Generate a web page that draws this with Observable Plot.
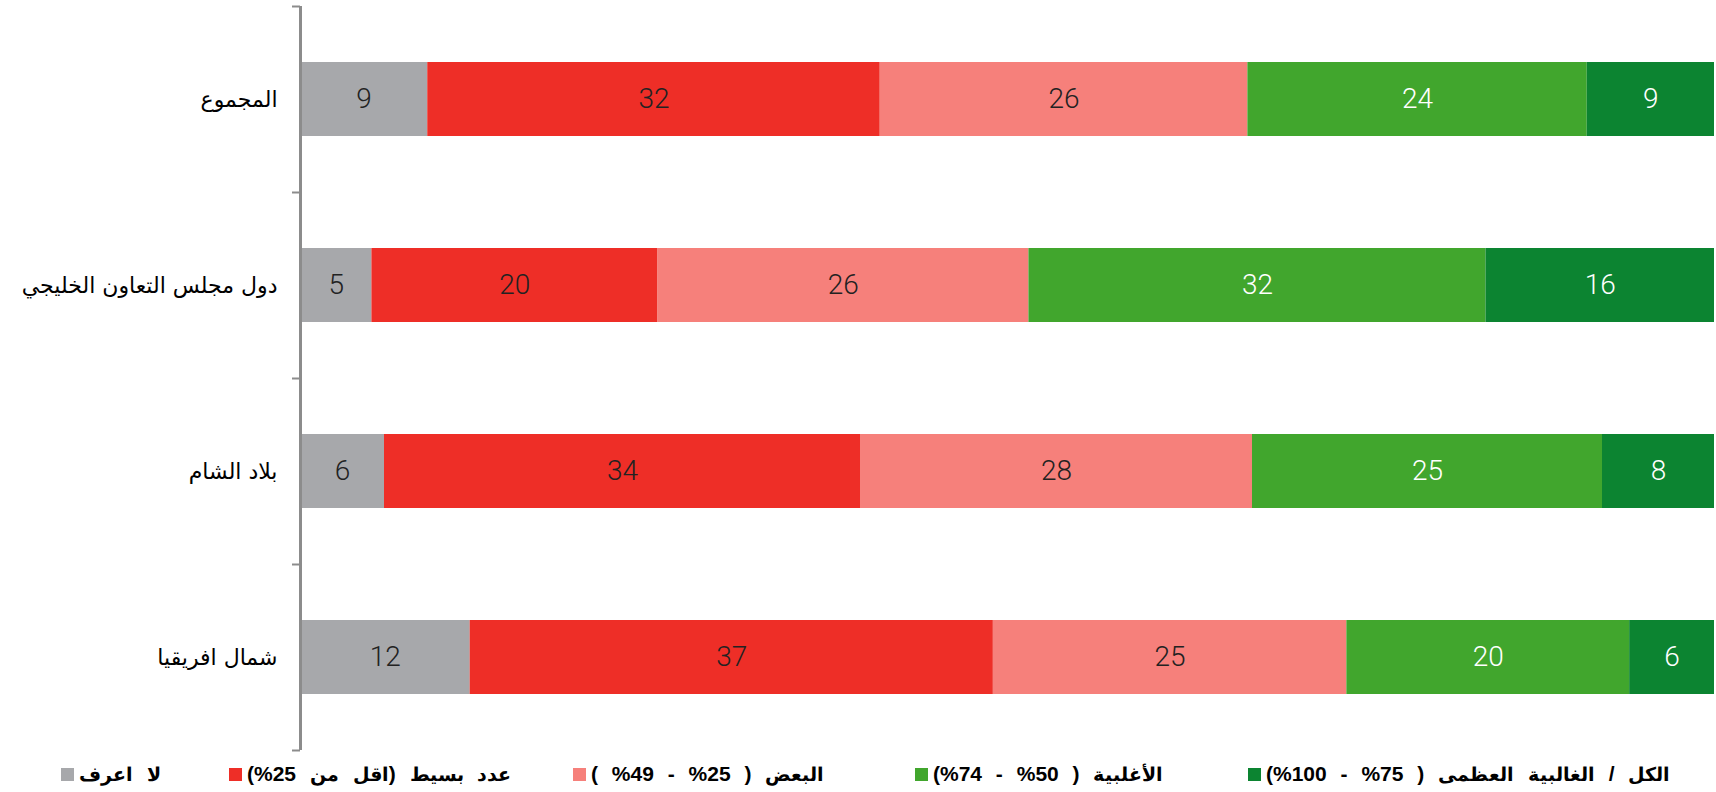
<!DOCTYPE html>
<html><head><meta charset="utf-8">
<script src="https://cdn.jsdelivr.net/npm/d3@7"></script>
<script src="https://cdn.jsdelivr.net/npm/@observablehq/plot@0.6"></script>
<style>
@font-face{font-family:"LegAr";src:local("DejaVu Sans Bold"),local("DejaVuSans-Bold");unicode-range:U+0600-06FF,U+FE70-FEFF;size-adjust:90%;font-weight:bold;}
body{margin:0;background:#fff;}
#wrap{position:relative;width:1716px;height:792px;overflow:hidden;}
#legend{position:absolute;top:762px;left:0;width:1716px;height:24px;font-family:"LegAr","Liberation Sans","DejaVu Sans",sans-serif;font-weight:bold;font-size:21px;word-spacing:8px;color:#000;}
.item{position:absolute;top:0;display:flex;align-items:center;height:24px;white-space:nowrap;}
.sw{width:13px;height:13px;margin-right:5px;flex:none;}
</style></head>
<body><div id="wrap"><div id="chart"></div><div id="legend"></div></div>
<script>
const regions = ["المجموع", "دول مجلس التعاون الخليجي", "بلاد الشام", "شمال افريقيا"];
const categories = [
  "لا اعرف",
  "عدد بسيط (اقل من 25%)",
  "البعض ( 25% - 49% )",
  "الأغلبية ( 50% - 74%)",
  "الكل / الغالبية العظمى ( 75% - 100%)"
];
const dontKnow   = [9, 5, 6, 12];
const few        = [32, 20, 34, 37];
const some       = [26, 26, 28, 25];
const majority   = [24, 32, 25, 20];
const allOrMost  = [9, 16, 8, 6];

const colors = ["#A7A8AB", "#EE2E27", "#F6807B", "#41A62D", "#0C8431"];
const whiteText = [categories[3], categories[4]];
const legendLeft = [61, 229, 573, 915, 1248];

const series = [dontKnow, few, some, majority, allOrMost];
const data = [];
series.forEach((vals, j) => vals.forEach((v, i) => data.push({region: regions[i], cat: categories[j], value: v})));

const stackOpts = (extra) => Plot.stackX({x: "value", y: "region", z: "cat", offset: "normalize", ...extra});
const valueFont = {fontSize: 28, fontWeight: 300, fontFamily: "Roboto, Lato, sans-serif"};

const chart = Plot.plot({
  width: 1716,
  height: 756,
  marginLeft: 300,
  marginRight: 2,
  marginTop: 6,
  marginBottom: 6,
  x: {domain: [0, 1], axis: null},
  y: {domain: regions, paddingInner: 0.6, paddingOuter: 0.3, label: null, axis: null},
  color: {domain: categories, range: colors},
  style: {fontFamily: "'DejaVu Sans', sans-serif", fontSize: "22px", color: "#000", background: "#fff"},
  marks: [
    Plot.barX(data, stackOpts({fill: "cat"})),
    Plot.textX(data, stackOpts({text: d => whiteText.includes(d.cat) ? null : String(d.value), fill: "#222222", ...valueFont})),
    Plot.textX(data, stackOpts({text: d => whiteText.includes(d.cat) ? String(d.value) : null, fill: "#ffffff", ...valueFont})),
    Plot.ruleX([0], {stroke: "#8c8c8c", strokeWidth: 3}),
    Plot.axisY({tickSize: 0, tickPadding: 23, fontSize: 22, label: null}),
    Plot.axisY({tickSize: 8, text: null, dy: -93, stroke: "#8c8c8c", strokeWidth: 2, label: null}),
    Plot.axisY({ticks: [regions[regions.length - 1]], tickSize: 8, text: null, dy: 93, stroke: "#8c8c8c", strokeWidth: 2, label: null})
  ]
});
document.getElementById("chart").appendChild(chart);

const legend = document.getElementById("legend");
categories.forEach((c, j) => {
  const item = document.createElement("div");
  item.className = "item";
  item.style.left = legendLeft[j] + "px";
  const sw = document.createElement("span");
  sw.className = "sw";
  sw.style.background = colors[j];
  const t = document.createElement("span");
  t.dir = "rtl";
  t.textContent = c;
  item.appendChild(sw);
  item.appendChild(t);
  legend.appendChild(item);
});
</script>
</body></html>
